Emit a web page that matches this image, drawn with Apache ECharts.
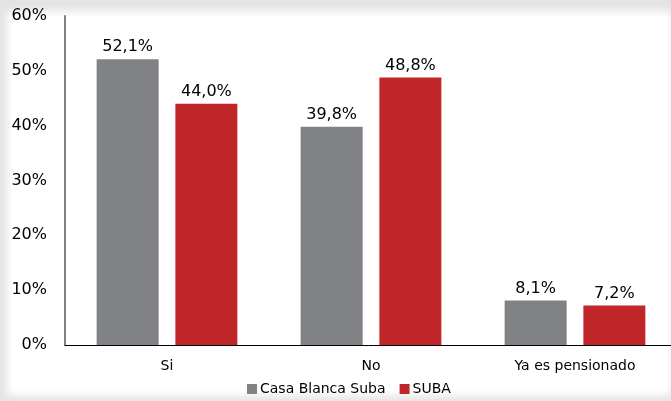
<!DOCTYPE html>
<html>
<head>
<meta charset="utf-8">
<script src="https://cdn.jsdelivr.net/npm/echarts@6/dist/echarts.min.js"></script>
<style>
  html, body { margin: 0; padding: 0; }
  body { width: 671px; height: 401px; background: #e3e3e3; position: relative; overflow: hidden; }
  .panel {
    position: absolute; left: 12px; top: 16px; right: 4px; bottom: 10px;
    background: #fff; box-shadow: 0 0 8px 5px #fff;
  }
  #chart { position: absolute; left: 0; top: 0; width: 671px; height: 401px; }
</style>
</head>
<body>
<div class="panel"></div>
<div id="chart"></div>
<script>
// datos
const categories = ['Si', 'No', 'Ya es pensionado']
const casaBlancaSuba = [52.1, 39.8, 8.1]
const suba = [44.0, 48.8, 7.2]
const seriesNames = ['Casa Blanca Suba', 'SUBA']
const yTicks = [0, 10, 20, 30, 40, 50, 60]

const font = 'DejaVu Sans, Verdana, sans-serif'
const fmt = (v) => v.toFixed(1).replace('.', ',') + '%'

const chart = echarts.init(document.getElementById('chart'))

const makeSeries = (name, data, color) => ({
  name,
  type: 'bar',
  data,
  barWidth: 62,
  barGap: '27%',
  itemStyle: { color },
  label: {
    show: true,
    position: 'top',
    distance: 4,
    formatter: (p) => fmt(p.value),
    color: '#000',
    fontFamily: font,
    fontSize: 16,
  },
})

chart.setOption({
  animation: false,
  backgroundColor: 'transparent',
  grid: { left: 65, top: 16, width: 612, bottom: 56, outerBoundsMode: 'none' },
  xAxis: {
    type: 'category',
    data: categories,
    axisLine: { lineStyle: { color: '#000', width: 1 } },
    axisTick: { show: false },
    axisLabel: { color: '#000', fontFamily: font, fontSize: 14, margin: 14 },
  },
  yAxis: {
    type: 'value',
    min: yTicks[0],
    max: yTicks[yTicks.length - 1],
    interval: 10,
    axisLine: { show: true, lineStyle: { color: '#808080', width: 2 } },
    axisTick: { show: false },
    splitLine: { show: false },
    axisLabel: {
      color: '#000',
      fontFamily: font,
      fontSize: 16,
      margin: 18,
      formatter: (v) => v + '%',
    },
  },
  legend: {
    left: 247,
    top: 382,
    padding: 0,
    itemWidth: 10,
    itemHeight: 10,
    itemGap: 14,
    icon: 'rect',
    textStyle: { color: '#000', fontFamily: font, fontSize: 14, padding: [0, 0, 0, -2] },
    data: seriesNames,
  },
  series: [
    makeSeries(seriesNames[0], casaBlancaSuba, '#808285'),
    makeSeries(seriesNames[1], suba, '#c1262b'),
  ],
})
</script>
</body>
</html>
